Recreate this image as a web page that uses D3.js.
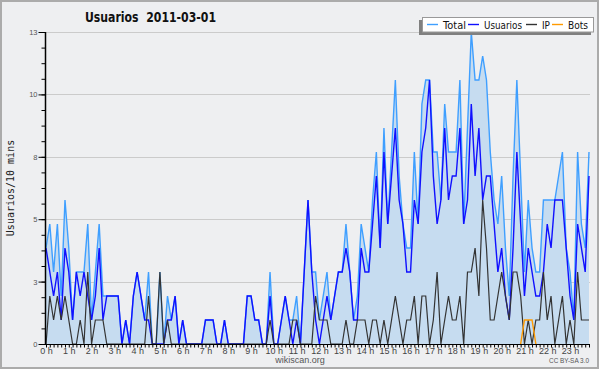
<!DOCTYPE html>
<html>
<head>
<meta charset="utf-8">
<script src="https://cdn.jsdelivr.net/npm/d3@7/dist/d3.min.js"></script>
<style>
  body { margin: 0; background: #fff; }
  svg { display: block; }
  text { font-family: "Liberation Sans", Arial, sans-serif; }
</style>
</head>
<body>
<div id="chart"></div>
<script>
// data: one value every 10 minutes (144 per day)
const chartTitle = 'Usuarios  2011-03-01';
const seriesNames = ['Total', 'Usuarios', 'IP', 'Bots'];
const hourLabels = d3.range(24).map(h => h + ' h');
const yTicks = [0, 2.6, 5.2, 7.8, 10.4, 13];

const usuarios = [
  4,3,2,3,1,4,3,1,3,2,3,2,1,2,4,1,2,2,2,2,0,1,0,2,
  3,2,1,1,0,0,0,0,1,1,2,0,1,0,0,0,0,0,1,1,1,0,0,1,
  0,0,0,0,0,2,2,1,1,0,0,2,0,0,1,2,1,0,1,0,3,6,3,1,
  0,1,2,1,2,3,3,4,3,1,1,4,3,3,5,7,4,8,5,7,9,6,5,3,
  3,6,5,8,9,11,7,5,6,9,6,7,7,9,5,6,10,7,9,6,7,7,5,3,
  4,2,1,4,8,5,2,4,3,2,2,3,5,4,6,6,6,4,2,1,5,4,3,7
];
const ip = [
  0,2,1,2,1,2,1,0,0,1,0,3,0,1,1,1,0,0,0,0,0,0,0,0,
  0,0,0,2,0,0,3,0,1,0,0,0,0,0,0,0,0,0,0,0,0,0,0,0,
  0,0,0,0,0,0,0,0,0,0,0,1,0,0,0,0,0,1,1,0,0,0,0,2,
  1,1,1,0,0,0,0,1,0,0,1,1,1,0,1,1,0,1,0,1,2,1,0,1,
  1,2,0,2,2,0,1,3,0,1,2,1,1,2,0,3,3,4,2,6,4,1,1,2,
  3,2,1,3,3,2,0,1,0,1,1,3,1,2,0,1,2,0,1,0,3,1,1,1
];
const bots = [
  0,0,0,0,0,0,0,0,0,0,0,0,0,0,0,0,0,0,0,0,0,0,0,0,
  0,0,0,0,0,0,0,0,0,0,0,0,0,0,0,0,0,0,0,0,0,0,0,0,
  0,0,0,0,0,0,0,0,0,0,0,0,0,0,0,0,0,0,0,0,0,0,0,0,
  0,0,0,0,0,0,0,0,0,0,0,0,0,0,0,0,0,0,0,0,0,0,0,0,
  0,0,0,0,0,0,0,0,0,0,0,0,0,0,0,0,0,0,0,0,0,0,0,0,
  0,0,0,0,0,0,1,1,1,0,0,0,0,0,0,0,0,0,0,0,0,0,0,0
];
const total = [
  4,5,3,5,2,6,4,1,3,3,3,5,1,3,5,2,2,2,2,2,0,1,0,2,
  3,2,1,3,0,0,3,0,2,1,2,0,1,0,0,0,0,0,1,1,1,0,0,1,
  0,0,0,0,0,2,2,1,1,0,0,3,0,0,1,2,1,1,2,0,3,6,3,3,
  1,2,3,1,2,3,3,5,3,1,2,5,4,3,6,8,4,9,5,8,11,7,5,4,
  4,8,5,10,11,11,8,8,6,10,8,8,8,11,5,9,13,11,11,12,11,8,6,5,
  7,4,2,7,11,7,3,6,4,3,3,6,6,6,6,7,8,4,3,1,8,5,4,8
];

const colors = { Total: '#3f9fff', Usuarios: '#1010ff', IP: '#333333', Bots: '#ff9a00' };

const W = 600, H = 370;
const margin = { top: 32, right: 11, bottom: 26, left: 46 };

const svg = d3.select('#chart').append('svg')
    .attr('width', W)
    .attr('height', H);

// background and frame
svg.append('rect')
    .attr('x', 1).attr('y', 1)
    .attr('width', W - 3).attr('height', H - 3)
    .attr('fill', '#eeeff1')
    .attr('stroke', '#ababab')
    .attr('stroke-width', 2);

const x = d3.scaleLinear()
    .domain([0, usuarios.length - 1])
    .range([margin.left, W - margin.right]);

const y = d3.scaleLinear()
    .domain([0, 13])
    .range([H - margin.bottom, margin.top]);

// grid
svg.append('g')
    .selectAll('line')
    .data(yTicks.slice(1))
    .join('line')
    .attr('x1', margin.left)
    .attr('x2', W - margin.right + 1)
    .attr('y1', d => Math.round(y(d)) + 0.5)
    .attr('y2', d => Math.round(y(d)) + 0.5)
    .attr('stroke', '#cbcbcb');

// area under total
const area = d3.area()
    .x((d, i) => x(i))
    .y0(y(0))
    .y1(d => y(d));

svg.append('path')
    .datum(total)
    .attr('d', area)
    .attr('fill', '#c6dcf0');

const line = d3.line()
    .x((d, i) => x(i))
    .y(d => y(d));

const lines = [
  { name: 'Total', values: total, w: 1.4 },
  { name: 'Usuarios', values: usuarios, w: 1.4 },
  { name: 'IP', values: ip, w: 1.2 },
  { name: 'Bots', values: bots, w: 1.4 }
];

// bots only drawn where there is something
svg.selectAll('path.serie')
    .data(lines)
    .join('path')
    .attr('class', 'serie')
    .attr('d', d => {
        if (d.name !== 'Bots') return line(d.values);
        return d3.line()
            .defined((v, i) => v > 0 || d.values[i - 1] > 0 || d.values[i + 1] > 0)
            .x((v, i) => x(i))
            .y(v => y(v))(d.values);
    })
    .attr('fill', 'none')
    .attr('stroke', d => colors[d.name])
    .attr('stroke-width', d => d.w);

// x axis: a tick every 10 min, label every hour
const xAxis = svg.append('g')
    .attr('transform', `translate(0,${y(0) + 0.5})`)
    .call(d3.axisBottom(x)
        .tickValues(d3.range(0, usuarios.length))
        .tickSize(3)
        .tickFormat(d => d % 6 === 0 ? hourLabels[d / 6] : ''));

xAxis.select('.domain')
    .attr('d', `M${margin.left - 1},0H${W - margin.right + 1}`)
    .attr('stroke', '#000');
xAxis.selectAll('.tick line').attr('stroke', '#000');
xAxis.selectAll('.tick text')
    .attr('y', 3)
    .attr('dy', '0.71em')
    .style('font-size', '9px')
    .attr('fill', '#444');

// y axis: major ticks plus minor ones
const yMinor = svg.append('g')
    .attr('transform', `translate(${margin.left - 0.5},0)`)
    .call(d3.axisLeft(y)
        .tickValues(d3.range(0, 21).map(k => k * 0.65))
        .tickSize(4)
        .tickFormat(''));
yMinor.select('.domain').remove();

const yAxis = svg.append('g')
    .attr('transform', `translate(${margin.left - 0.5},0)`)
    .call(d3.axisLeft(y)
        .tickValues(yTicks)
        .tickSize(7)
        .tickPadding(1)
        .tickFormat(d => Math.round(d)));

yAxis.select('.domain')
    .attr('d', `M0,${y(0)}V${y(13)}`)
    .attr('stroke', '#000')
    .attr('stroke-width', 1.5);
yAxis.selectAll('.tick text')
    .style('font-size', '7.5px')
    .attr('fill', '#555');

// y label
svg.append('text')
    .attr('transform', `translate(14,${(y(0) + y(13)) / 2}) rotate(-90)`)
    .attr('text-anchor', 'middle')
    .style('font-family', '"DejaVu Sans Mono", monospace')
    .style('font-size', '10px')
    .attr('fill', '#222')
    .text('Usuarios/10 mins');

// title
svg.append('text')
    .attr('x', 85)
    .attr('y', 22)
    .attr('textLength', 131)
    .attr('lengthAdjust', 'spacingAndGlyphs')
    .style('white-space', 'pre')
    .style('font-family', '"DejaVu Sans", sans-serif')
    .style('font-weight', 'bold')
    .style('font-size', '13.5px')
    .attr('fill', '#111')
    .text(chartTitle);

// footer
svg.append('text')
    .attr('x', 300)
    .attr('y', 363)
    .attr('text-anchor', 'middle')
    .style('font-size', '9px')
    .attr('fill', '#555')
    .text('wikiscan.org');

svg.append('text')
    .attr('x', 589)
    .attr('y', 363)
    .attr('text-anchor', 'end')
    .attr('textLength', 40)
    .attr('lengthAdjust', 'spacingAndGlyphs')
    .style('font-size', '7px')
    .attr('fill', '#555')
    .text('CC BY-SA 3.0');

// legend with a drop shadow
const legend = svg.append('g');
legend.append('rect')
    .attr('x', 419).attr('y', 20)
    .attr('width', 172).attr('height', 15)
    .attr('fill', '#808080');
legend.append('rect')
    .attr('x', 422.5).attr('y', 17.5)
    .attr('width', 171).attr('height', 14.5)
    .attr('fill', '#fff')
    .attr('stroke', '#999');

const legendX = [427, 468, 526, 552];
const legendW = [23, 38, 8, 20];
seriesNames.forEach((name, i) => {
    legend.append('line')
        .attr('x1', legendX[i]).attr('x2', legendX[i] + 11)
        .attr('y1', 24.5).attr('y2', 24.5)
        .attr('stroke', colors[name])
        .attr('stroke-width', 1.4);
    legend.append('text')
        .attr('x', legendX[i] + 16)
        .attr('y', 28.5)
        .attr('textLength', legendW[i])
        .attr('lengthAdjust', 'spacingAndGlyphs')
        .style('font-family', '"DejaVu Sans", sans-serif')
        .style('font-size', '11px')
        .attr('fill', '#111')
        .text(name);
});
</script>
</body>
</html>
